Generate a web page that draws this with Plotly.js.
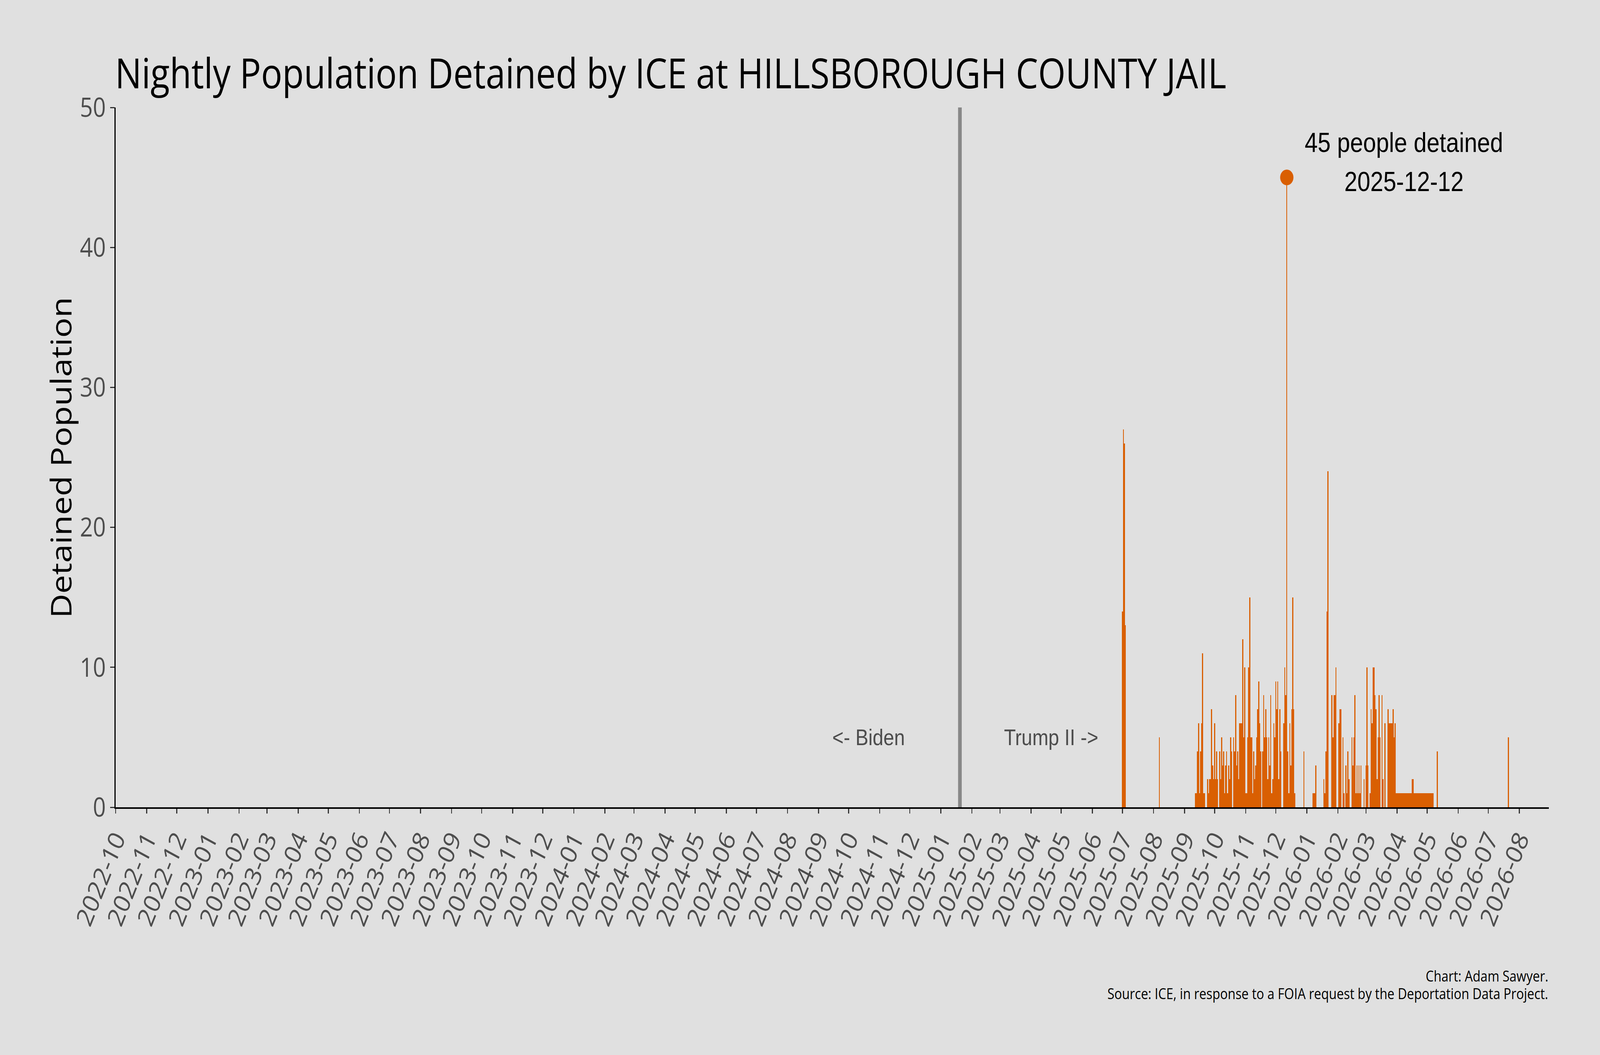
<!DOCTYPE html>
<html>
<head>
<meta charset="utf-8">
<script src="https://cdn.plot.ly/plotly-3.0.1.min.js"></script>
<style>
  html, body { margin: 0; padding: 0; overflow: hidden; background: #e0e0e0; }
  #frame { overflow: hidden; }
  #chart { width: 4800px; height: 2700px; transform-origin: 0 0; }
</style>
</head>
<body>
<div id="frame"><div id="chart"></div></div>
<script>
// nightly counts, days with nobody held are left out
const nightDates = [
    '2025-07-01', '2025-07-02', '2025-07-03', '2025-07-04',
    '2025-08-07',
    '2025-09-12', '2025-09-13', '2025-09-14', '2025-09-15', '2025-09-16', '2025-09-17', '2025-09-18',
    '2025-09-19', '2025-09-20', '2025-09-21', '2025-09-24', '2025-09-25', '2025-09-26', '2025-09-27',
    '2025-09-28', '2025-09-29', '2025-09-30',
    '2025-10-01', '2025-10-02', '2025-10-03', '2025-10-04', '2025-10-06', '2025-10-07', '2025-10-08',
    '2025-10-09', '2025-10-10', '2025-10-11', '2025-10-12', '2025-10-13', '2025-10-14', '2025-10-15',
    '2025-10-16', '2025-10-17', '2025-10-18', '2025-10-20', '2025-10-21', '2025-10-22', '2025-10-23',
    '2025-10-24', '2025-10-25', '2025-10-26', '2025-10-27', '2025-10-28', '2025-10-29', '2025-10-30',
    '2025-10-31',
    '2025-11-01', '2025-11-02', '2025-11-03', '2025-11-04', '2025-11-05', '2025-11-06', '2025-11-07',
    '2025-11-08', '2025-11-09', '2025-11-10', '2025-11-11', '2025-11-12', '2025-11-13', '2025-11-14',
    '2025-11-15', '2025-11-16', '2025-11-18', '2025-11-19', '2025-11-20', '2025-11-21', '2025-11-22',
    '2025-11-23', '2025-11-24', '2025-11-25', '2025-11-26', '2025-11-27', '2025-11-28', '2025-11-29',
    '2025-11-30',
    '2025-12-01', '2025-12-02', '2025-12-03', '2025-12-04', '2025-12-05', '2025-12-06', '2025-12-09',
    '2025-12-10', '2025-12-11', '2025-12-12', '2025-12-13', '2025-12-14', '2025-12-15', '2025-12-16',
    '2025-12-17', '2025-12-18', '2025-12-19', '2025-12-20', '2025-12-29',
    '2026-01-07', '2026-01-08', '2026-01-09', '2026-01-10', '2026-01-18', '2026-01-19', '2026-01-20',
    '2026-01-21', '2026-01-22', '2026-01-26', '2026-01-27', '2026-01-28', '2026-01-29', '2026-01-30',
    '2026-02-02', '2026-02-03', '2026-02-04', '2026-02-06', '2026-02-07', '2026-02-09', '2026-02-10',
    '2026-02-11', '2026-02-12', '2026-02-15', '2026-02-16', '2026-02-17', '2026-02-18', '2026-02-19',
    '2026-02-20', '2026-02-21', '2026-02-22', '2026-02-23', '2026-02-24', '2026-02-27',
    '2026-03-01', '2026-03-02', '2026-03-03', '2026-03-05', '2026-03-06', '2026-03-07', '2026-03-08',
    '2026-03-09', '2026-03-10', '2026-03-11', '2026-03-12', '2026-03-13', '2026-03-14', '2026-03-15',
    '2026-03-17', '2026-03-18', '2026-03-20', '2026-03-23', '2026-03-24', '2026-03-25', '2026-03-26',
    '2026-03-27', '2026-03-28', '2026-03-29', '2026-03-30', '2026-03-31',
    '2026-04-01', '2026-04-02', '2026-04-03', '2026-04-04', '2026-04-05', '2026-04-06', '2026-04-07',
    '2026-04-08', '2026-04-09', '2026-04-10', '2026-04-11', '2026-04-12', '2026-04-13', '2026-04-14',
    '2026-04-15', '2026-04-16', '2026-04-17', '2026-04-18', '2026-04-19', '2026-04-20', '2026-04-21',
    '2026-04-22', '2026-04-23', '2026-04-24', '2026-04-25', '2026-04-26', '2026-04-27', '2026-04-28',
    '2026-04-29', '2026-04-30',
    '2026-05-01', '2026-05-02', '2026-05-03', '2026-05-04', '2026-05-05', '2026-05-06', '2026-05-07',
    '2026-05-11',
    '2026-07-21',
];

const detained = [
    14, 27, 26, 13,
    5,
    1, 1, 4, 6, 1, 4, 6,
    11, 1, 1, 2, 1, 2, 2,
    7, 3, 2,
    6, 2, 4, 2, 4, 2, 5,
    3, 4, 1, 3, 4, 1, 3,
    2, 5, 4, 5, 4, 8, 3,
    4, 2, 6, 6, 6, 12, 5,
    10,
    1, 1, 5, 10, 15, 5, 5,
    1, 4, 2, 3, 5, 7, 9,
    6, 4, 4, 8, 5, 7, 5,
    2, 5, 3, 8, 1, 2, 6,
    5,
    9, 7, 9, 2, 7, 4, 6,
    10, 8, 45, 4, 1, 6, 3,
    7, 15, 7, 1, 4,
    1, 1, 1, 3, 2, 1, 4,
    14, 24, 8, 5, 8, 8, 10,
    6, 7, 7, 5, 1, 3, 1,
    4, 2, 5, 3, 5, 8, 1,
    3, 1, 3, 1, 3, 2,
    3, 10, 3, 1, 7, 6, 10,
    10, 8, 7, 2, 5, 8, 5,
    8, 2, 6, 7, 6, 6, 6,
    6, 7, 5, 6, 1,
    1, 1, 1, 1, 1, 1, 1,
    1, 1, 1, 1, 1, 1, 1,
    1, 2, 2, 1, 1, 1, 1,
    1, 1, 1, 1, 1, 1, 1,
    1, 1,
    1, 1, 1, 1, 1, 1, 1,
    4,
    5,
];

const peakDate = '2025-12-12';
const peakCount = 45;
const peakLines = ['45 people detained', '2025-12-12'];
const inaugurationDate = '2025-01-20';
const eraLabels = ['<- Biden', 'Trump II ->'];
const eraLabelDates = ['2024-10-21', '2025-04-21'];
const captionLines = [
    'Chart: Adam Sawyer.',
    'Source: ICE, in response to a FOIA request by the Deportation Data Project.',
];

const ORANGE = '#d95f02';
const BG = '#e0e0e0';
const TICK_GREY = '#4d4d4d';
const UI_FONT = '"Open Sans", "Noto Sans", sans-serif';
const ARIAL = '"Liberation Sans", Arial, sans-serif';
const DAY_MS = 86400000;
const W = 4800, H = 2700;

// the browser can hand us a narrower window than 4800 (it caps at 4096),
// so the 4800x2700 chart is squeezed to fill whatever window we get
const sx = window.innerWidth / W;
const sy = window.innerHeight / H;
const frame = document.getElementById('frame');
frame.style.width = window.innerWidth + 'px';
frame.style.height = window.innerHeight + 'px';
document.getElementById('chart').style.transform = 'scale(' + sx + ',' + sy + ')';

const bars = {
    type: 'bar',
    x: nightDates,
    y: detained,
    width: nightDates.map(() => DAY_MS),
    marker: { color: ORANGE, line: { width: 0 } },
    hoverinfo: 'skip',
};

const peak = {
    type: 'scatter',
    mode: 'markers',
    x: [peakDate],
    y: [peakCount],
    marker: { color: ORANGE, size: 40 },
    hoverinfo: 'skip',
};

const annotations = [
    // peak label, two lines set apart by hand to match the spacing
    { x: '2026-04-08', y: 47.5, text: peakLines[0] },
    { x: '2026-04-08', y: 44.7, text: peakLines[1] },
].map(a => ({
    ...a, xref: 'x', yref: 'y', showarrow: false,
    xanchor: 'center', yanchor: 'middle',
    font: { family: ARIAL, size: 70, color: '#000000' },
}));

eraLabels.forEach((txt, i) => {
    annotations.push({
        x: eraLabelDates[i], y: 5, xref: 'x', yref: 'y',
        text: txt, showarrow: false,
        xanchor: 'center', yanchor: 'middle',
        font: { family: ARIAL, size: 58, color: TICK_GREY },
    });
});

captionLines.forEach((txt, i) => {
    annotations.push({
        x: 1, y: [-0.2407, -0.2658][i], xref: 'paper', yref: 'paper',
        text: txt, showarrow: false,
        xanchor: 'right', yanchor: 'middle',
        font: { family: UI_FONT, size: 38, color: '#000000' },
    });
});

annotations.push({
    x: -0.0385, y: 0.5, xref: 'paper', yref: 'paper',
    text: 'Detained Population', textangle: -90, showarrow: false,
    xanchor: 'center', yanchor: 'middle',
    font: { family: UI_FONT, size: 86, color: '#000000' },
});

const layout = {
    width: W,
    height: H,
    paper_bgcolor: BG,
    plot_bgcolor: BG,
    showlegend: false,
    margin: { l: 347, r: 153, t: 275, b: 634 },
    title: {
        text: 'Nightly Population Detained by ICE at HILLSBOROUGH COUNTY JAIL',
        xref: 'container', yref: 'container',
        x: 345 / W, xanchor: 'left',
        y: 1 - 189 / H, yanchor: 'middle',
        font: { family: UI_FONT, size: 106, color: '#000000' },
    },
    xaxis: {
        type: 'date',
        range: ['2022-10-01', '2026-08-30T12:00'],
        tick0: '2022-10-01',
        dtick: 'M1',
        tickformat: '%Y-%m',
        tickangle: -65,
        ticks: 'outside', ticklen: 12, tickwidth: 3, tickcolor: '#333333',
        tickfont: { family: UI_FONT, size: 68, color: TICK_GREY },
        showline: true, linecolor: '#000000', linewidth: 4,
        showgrid: false, zeroline: false,
    },
    yaxis: {
        range: [0, 50],
        dtick: 10,
        ticks: 'outside', ticklen: 12, tickwidth: 3, tickcolor: '#333333',
        tickfont: { family: UI_FONT, size: 68, color: TICK_GREY },
        showline: true, linecolor: '#000000', linewidth: 4,
        showgrid: false, zeroline: false,
    },
    shapes: [{
        type: 'line', layer: 'below',
        xref: 'x', yref: 'y',
        x0: inaugurationDate, x1: inaugurationDate, y0: 0, y1: 50,
        line: { color: '#888888', width: 11 },
    }],
    annotations: annotations,
    bargap: 0,
};

Plotly.newPlot('chart', [bars, peak], layout, { staticPlot: true, displayModeBar: false });
</script>
</body>
</html>
